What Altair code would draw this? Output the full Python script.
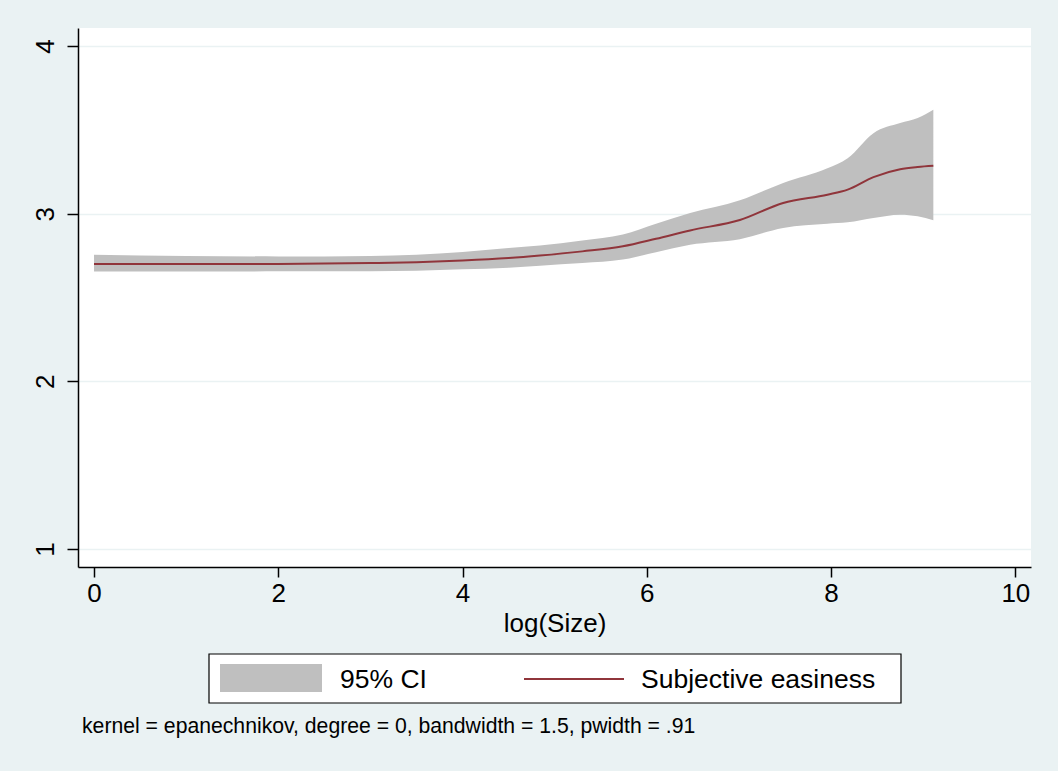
import altair as alt
import pandas as pd

# log(Size) grid points and smoothed estimates
x_vals = [0.0, 1.0, 2.0, 3.0, 3.5, 4.0, 4.5, 4.84, 5.3, 5.74, 6.1, 6.47, 7.01, 7.48, 7.96, 8.18, 8.46, 8.75, 8.94, 9.11]
smooth = [2.70, 2.70, 2.70, 2.705, 2.71, 2.72, 2.735, 2.75, 2.775, 2.805, 2.85, 2.90, 2.962, 3.064, 3.113, 3.143, 3.218, 3.265, 3.278, 3.285]
ci_upper = [2.755, 2.748, 2.745, 2.748, 2.755, 2.772, 2.795, 2.81, 2.84, 2.875, 2.94, 3.004, 3.08, 3.183, 3.27, 3.33, 3.48, 3.54, 3.57, 3.62]
ci_lower = [2.655, 2.655, 2.656, 2.657, 2.66, 2.668, 2.678, 2.69, 2.705, 2.726, 2.77, 2.815, 2.848, 2.915, 2.94, 2.948, 2.974, 2.994, 2.984, 2.96]

series_names = ["95% CI", "Subjective easiness"]
series_colors = ["#BFBFBF", "#90353B"]
x_ticks = [0, 2, 4, 6, 8, 10]
y_ticks = [1, 2, 3, 4]
note = "kernel = epanechnikov, degree = 0, bandwidth = 1.5, pwidth = .91"

ci_df = pd.DataFrame({"x": x_vals, "lo": ci_lower, "hi": ci_upper})
line_df = pd.DataFrame({"x": x_vals, "y": smooth})
one = pd.DataFrame({"k": [0]})

FONT = "Liberation Sans"

xscale = alt.Scale(domain=[-0.174, 10.17], nice=False, zero=False)
yscale = alt.Scale(domain=[0.893, 4.107], nice=False, zero=False)

area = alt.Chart(ci_df).mark_area(opacity=1, interpolate="monotone", color=series_colors[0]).encode(
    x=alt.X("x:Q", scale=xscale, axis=alt.Axis(
        values=x_ticks, format="d", title="log(Size)", grid=False, tickSize=10, tickWidth=1.5,
        domainColor="black", domainWidth=1.5, tickColor="black",
        labelFontSize=26, labelFont=FONT, labelColor="black", labelPadding=3,
        titleFontSize=26, titleFont=FONT, titleFontWeight="normal", titleColor="black",
        titlePadding=4, labelFlush=False)),
    y=alt.Y("lo:Q", scale=yscale, axis=alt.Axis(
        values=y_ticks, format="d", title=None, grid=True, gridColor="#EAF2F3", gridWidth=1.5,
        tickSize=11, tickWidth=1.5, tickColor="black", domainColor="black", domainWidth=1.5,
        labelAngle=270, labelAlign="center", labelBaseline="alphabetic",
        labelFontSize=26, labelFont=FONT, labelColor="black", labelPadding=14)),
    y2="hi:Q",
)

line = alt.Chart(line_df).mark_line(strokeWidth=2, interpolate="monotone", color=series_colors[1]).encode(
    x=alt.X("x:Q", scale=xscale),
    y=alt.Y("y:Q", scale=yscale),
)

# legend drawn as a boxed key below the plot
leg_box = alt.Chart(one).mark_rect(fill="white", stroke="black", strokeWidth=1.2).encode(
    x=alt.value(131), x2=alt.value(823), y=alt.value(626), y2=alt.value(675))
leg_swatch = alt.Chart(one).mark_rect(fill=series_colors[0]).encode(
    x=alt.value(142), x2=alt.value(244), y=alt.value(636), y2=alt.value(664))
leg_line = alt.Chart(one).mark_rule(stroke=series_colors[1], strokeWidth=2).encode(
    x=alt.value(446), x2=alt.value(546), y=alt.value(651))
leg_t1 = alt.Chart(one).mark_text(align="left", baseline="middle", fontSize=26.5, font=FONT,
                                  color="black", text=series_names[0]).encode(
    x=alt.value(262), y=alt.value(652))
leg_t2 = alt.Chart(one).mark_text(align="left", baseline="middle", fontSize=26.5, font=FONT,
                                  color="black", text=series_names[1]).encode(
    x=alt.value(563), y=alt.value(652))

footnote = alt.Chart(one).mark_text(
    align="left", baseline="middle", fontSize=21.2, font=FONT, color="black", text=note
).encode(x=alt.value(4), y=alt.value(699))

chart = alt.layer(area, line, leg_box, leg_swatch, leg_line, leg_t1, leg_t2, footnote).properties(
    width=953, height=539,
    autosize=alt.AutoSizeParams(type="none"),
    padding={"left": 78, "top": 28, "right": 27, "bottom": 204},
    background="#EAF2F3",
).configure_view(fill="white", stroke=None)

chart.save("out.html", embed_options={"renderer": "svg", "actions": False})
